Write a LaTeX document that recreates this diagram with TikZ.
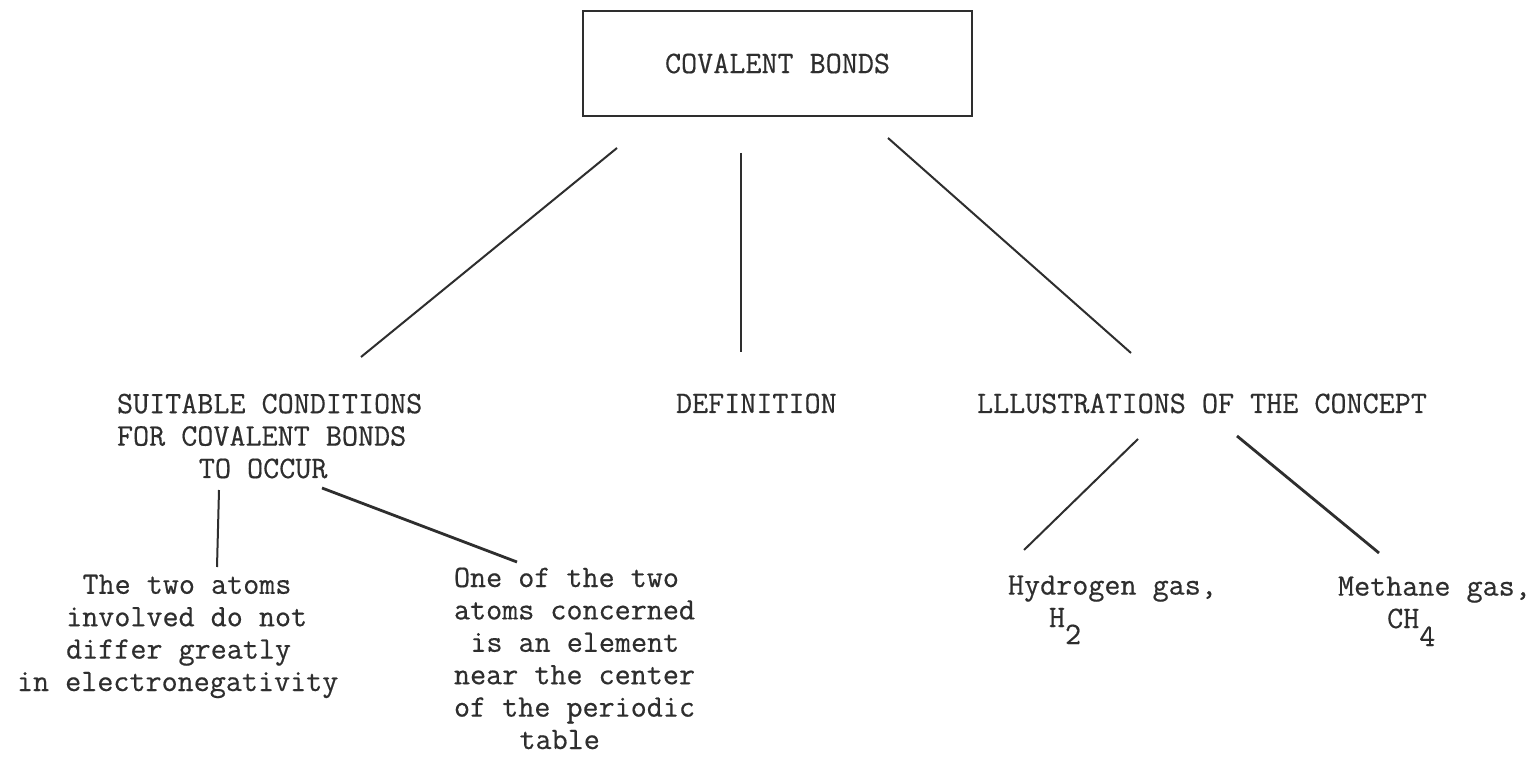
\documentclass[tikz,border=0pt]{standalone}
\usepackage{fontspec}
\newfontfamily\tw[FakeBold=0.45]{Latin Modern Mono}
\definecolor{ink}{HTML}{2E2E2E}
\newcommand{\chs}[1]{\hspace*{#1\dimexpr 0.525em\relax}}
\begin{document}
\begin{tikzpicture}[x=0.5pt,y=-0.5pt,
  txt/.style={font=\fontsize{15.6}{16.2}\selectfont\tw, text=ink, inner sep=0pt, outer sep=0pt, anchor=base west, align=left},
  link/.style={draw=ink, line width=1pt},
  thick link/.style={draw=ink, line width=1.4pt}]
\useasboundingbox (0,0) rectangle (1540,758);
\fill[white] (0,0) rectangle (1540,758);

% top box
\node[draw=ink, line width=1.2pt, minimum width=194.5pt, minimum height=52.5pt, inner sep=0pt,
      font=\fontsize{15.6}{16.2}\selectfont\tw, text=ink] (root) at (777.5,63.5) {COVALENT BONDS};

% second level (anchor = baseline of the last line)
\node[txt] (cond) at (117,478) {SUITABLE CONDITIONS\\FOR COVALENT BONDS\\\chs{5}TO OCCUR};
\node[txt] (def) at (676,413) {DEFINITION};
\node[txt] (ill) at (977,413) {LLLUSTRATIONS OF THE CONCEPT};

% third level
\node[txt] (diff) at (17,691) {\chs{4}The two atoms\\\chs{3}involved do not\\\chs{3}differ greatly\\in electronegativity};
\node[txt] (elem) at (454,749) {One of the two\\atoms concerned\\\chs{1}is an element\\near the center\\of the periodic\\\chs{4}table};
\node[txt] (hyd) at (1008,627) {Hydrogen gas,\\\chs{2.5}H\raisebox{-8.5pt}{2}};
\node[txt] (meth) at (1338,628) {Methane gas,\\\chs{3}CH\raisebox{-9pt}{4}};

% connector end points
\coordinate (r1) at (617,148); \coordinate (c1) at (361,357);
\coordinate (r2) at (741,153); \coordinate (c2) at (741,352);
\coordinate (r3) at (888,138); \coordinate (c3) at (1131,353);
\coordinate (s1) at (219,490); \coordinate (d1) at (217,567);
\coordinate (s2) at (322,488); \coordinate (d2) at (517,562);
\coordinate (i1) at (1138,439); \coordinate (e1) at (1024,550);
\coordinate (i2) at (1237,436); \coordinate (e2) at (1379,553);

\draw[link] (r1) -- (c1);
\draw[link] (r2) -- (c2);
\draw[link] (r3) -- (c3);
\draw[link] (s1) -- (d1);
\draw[thick link] (s2) -- (d2);
\draw[link] (i1) -- (e1);
\draw[thick link] (i2) -- (e2);
\end{tikzpicture}
\end{document}
